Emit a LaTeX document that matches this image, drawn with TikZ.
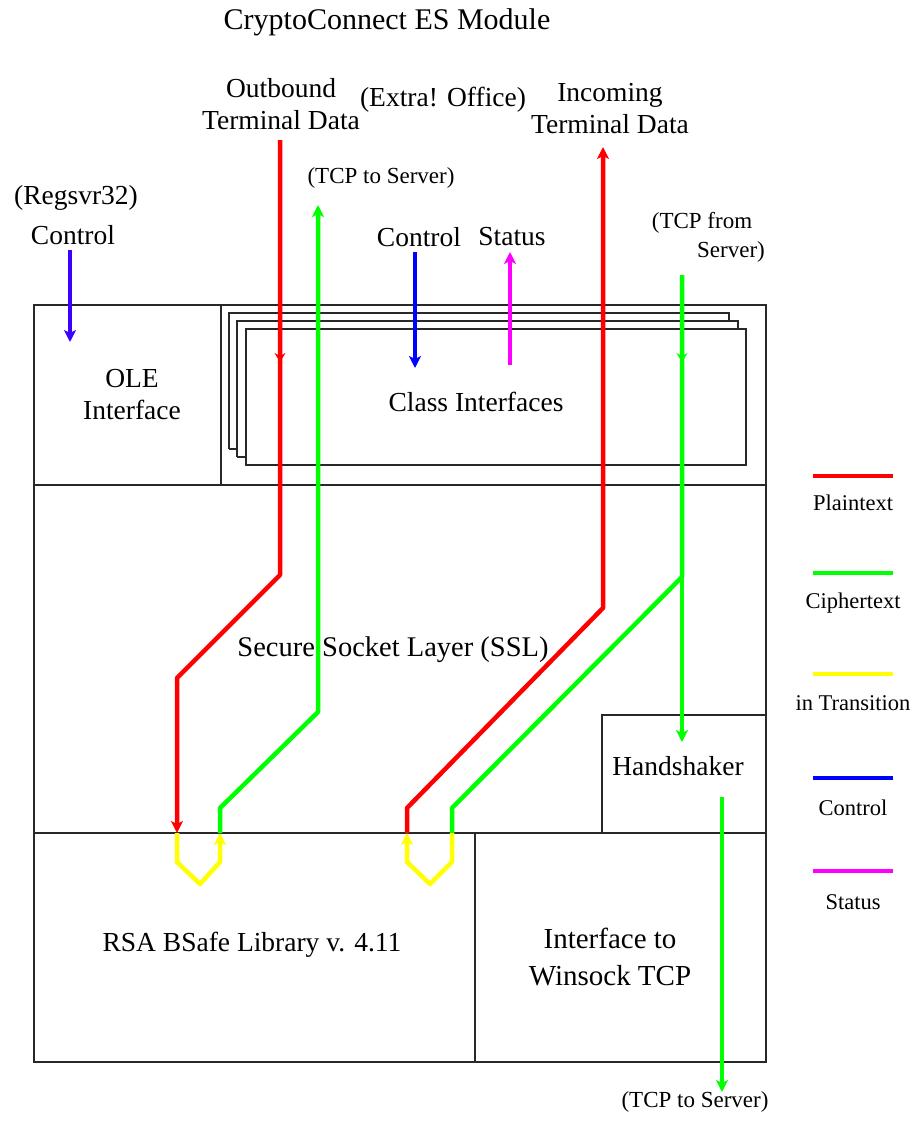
\documentclass[tikz,border=0pt]{standalone}
\usepackage{fontspec}
\setmainfont{Liberation Serif}
\usetikzlibrary{arrows.meta}
\definecolor{cred}{RGB}{255,0,0}
\definecolor{cgreen}{RGB}{0,255,0}
\definecolor{cyellow}{RGB}{255,255,0}
\definecolor{cblue}{RGB}{0,0,255}
\definecolor{cviolet}{RGB}{60,0,255}
\definecolor{cmag}{RGB}{255,0,255}
\definecolor{cline}{RGB}{40,40,40}
\begin{document}
\begin{tikzpicture}[x=1pt,y=-1pt,
  blk/.style={draw=cline, line width=1.6pt},
  lbl/.style={inner sep=0pt, font=\fontsize{27.5}{32}\selectfont, align=center},
  sml/.style={inner sep=0pt, font=\fontsize{23}{28}\selectfont, align=center},
  leg/.style={inner sep=0pt, font=\fontsize{22.5}{25}\selectfont, align=center},
  flow/.style={line width=4.5pt, line join=round},
  tipA/.style={-{Stealth[length=12pt,width=12pt,inset=3pt]}},
  tipB/.style={-{Stealth[length=9pt,width=11pt,inset=3pt]}},
  thin/.style={line width=1.2pt},
  legline/.style={line width=4pt}
]
\useasboundingbox (0,0) rectangle (920,1122);

% ---------- boxes ----------
\draw[blk] (34,305) rectangle (766,1062);
\draw[blk] (221,305) -- (221,485);
\draw[blk] (34,485) -- (766,485);
\draw[blk] (229,449) -- (229,313) -- (729,313) -- (729,321);
\draw[blk] (237,457) -- (237,321) -- (738,321) -- (738,329);
\draw[blk] (229,449) -- (237,449);
\draw[blk] (237,457) -- (246,457);
\draw[blk] (246,329) rectangle (746,465);
\draw[blk] (34,833) -- (766,833);
\draw[blk] (602,833) -- (602,715) -- (766,715);
\draw[blk] (475,833) -- (475,1062);

% ---------- texts ----------
\node[lbl, font=\fontsize{30}{34}\selectfont] (title) at (387,22) {CryptoConnect ES Module};
\node[lbl] (outb) at (281,104) {Outbound\\Terminal Data};
\node[lbl] (extra) at (443,100) {(Extra! Office)};
\node[lbl] (inc) at (610,109) {Incoming\\Terminal Data};
\node[sml] (tcpto) at (381,178) {(TCP to Server)};
\node[lbl] (regsvr) at (76,198) {(Regsvr32)};
\node[lbl] (ctl1) at (73,235) {Control};
\node[lbl] (ctl2) at (419,237) {Control};
\node[lbl] (stat) at (512,237) {Status};
\node[sml] (tcpfrom1) at (702,223) {(TCP from};
\node[sml] (tcpfrom2) at (731,252) {Server)};
\node[lbl] (ole) at (132,395) {OLE\\Interface};
\node[lbl] (cls) at (476,402) {Class Interfaces};
\node[lbl, font=\fontsize{28.5}{32}\selectfont] (ssl) at (393,650) {Secure Socket Layer (SSL)};
\node[lbl] (hand) at (678,766) {Handshaker};
\node[lbl] (rsa) at (252,945) {RSA BSafe Library v. 4.11};
\node[lbl, font=\fontsize{29}{37}\selectfont] (wins) at (610,957) {Interface to\\Winsock TCP};
\node[sml] (tcpbot) at (695,1102) {(TCP to Server)};

% ---------- path coordinates ----------
\coordinate (o1) at (280,140);
\coordinate (o2) at (280,575);
\coordinate (o3) at (177,678);
\coordinate (o4) at (177,833);
\coordinate (om1) at (280,346);
\coordinate (om2) at (280,362);

\coordinate (g1) at (220,833);
\coordinate (g2) at (220,808);
\coordinate (g3) at (318,712);
\coordinate (g4) at (318,205);

\coordinate (y1) at (177,862);
\coordinate (y2) at (200,884);
\coordinate (y3) at (220,862);

\coordinate (i1) at (682,275);
\coordinate (i2) at (682,577);
\coordinate (i3) at (452,808);
\coordinate (i4) at (452,833);
\coordinate (i5) at (682,742);
\coordinate (im1) at (682,346);
\coordinate (im2) at (682,362);

\coordinate (z1) at (452,862);
\coordinate (z2) at (430,884);
\coordinate (z3) at (407,862);
\coordinate (z4) at (407,833);

\coordinate (r1) at (407,808);
\coordinate (r2) at (603,608);
\coordinate (r3) at (603,147);

\coordinate (h1) at (722,797);
\coordinate (h2) at (722,1092);

\coordinate (b1) at (70,250);
\coordinate (b2) at (70,342);
\coordinate (c1) at (415,252);
\coordinate (c2) at (415,368);
\coordinate (s1) at (510,365);
\coordinate (s2) at (510,252);

% ---------- flows ----------
\draw[flow, cred, tipA] (o1) -- (o2) -- (o3) -- (o4);
\draw[thin, cred, tipB] (om1) -- (om2);
\draw[flow, cgreen, tipA] (g1) -- (g2) -- (g3) -- (g4);
\draw[flow, cyellow, tipA] (o4) -- (y1) -- (y2) -- (y3) -- (g1);

\draw[flow, cgreen] (i1) -- (i2) -- (i3) -- (i4);
\draw[flow, cgreen, tipA] (i2) -- (i5);
\draw[thin, cgreen, tipB] (im1) -- (im2);
\draw[flow, cred, tipA] (z4) -- (r1) -- (r2) -- (r3);
\draw[flow, cyellow, tipA] (i4) -- (z1) -- (z2) -- (z3) -- (z4);

\draw[flow, cgreen, tipA] (h1) -- (h2);

\draw[flow, cviolet, tipA] (b1) -- (b2);
\draw[flow, cblue, tipA] (c1) -- (c2);
\draw[flow, cmag, tipA] (s1) -- (s2);

% ---------- legend ----------
\coordinate (l1a) at (813,476); \coordinate (l1b) at (893,476);
\coordinate (l2a) at (813,573); \coordinate (l2b) at (893,573);
\coordinate (l3a) at (813,674); \coordinate (l3b) at (893,674);
\coordinate (l4a) at (813,778); \coordinate (l4b) at (893,778);
\coordinate (l5a) at (813,871); \coordinate (l5b) at (893,871);
\draw[legline, cred] (l1a) -- (l1b);
\draw[legline, cgreen] (l2a) -- (l2b);
\draw[legline, cyellow] (l3a) -- (l3b);
\draw[legline, cblue] (l4a) -- (l4b);
\draw[legline, cmag] (l5a) -- (l5b);
\node[leg] (lp) at (853,503) {Plaintext};
\node[leg] (lc) at (853,603) {Ciphertext};
\node[leg] (lt) at (853,703) {in Transition};
\node[leg] (lcn) at (853,808) {Control};
\node[leg] (ls) at (853,902) {Status};
\end{tikzpicture}
\end{document}
